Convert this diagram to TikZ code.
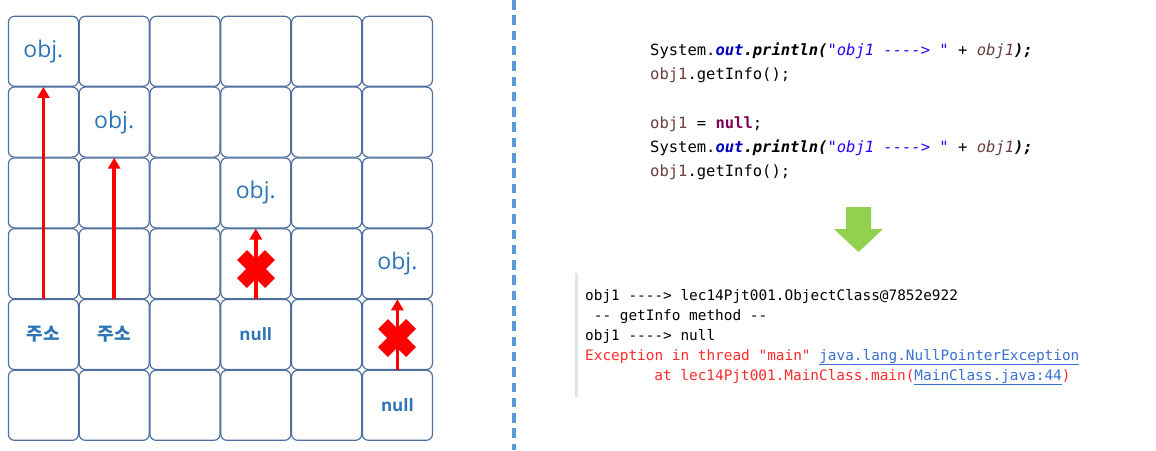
\documentclass[tikz,border=0pt]{standalone}
\usepackage{fontspec}
\usepackage{xcolor}
\usetikzlibrary{arrows.meta}
\setmainfont{Open Sans}
\setmonofont{DejaVu Sans Mono}
\newfontfamily\krfont{Noto Sans CJK KR}
\definecolor{cellline}{HTML}{4F6F9E}
\definecolor{labelblue}{HTML}{2E75B6}
\definecolor{divblue}{HTML}{5B9BD5}
\definecolor{arrowgreen}{HTML}{92D050}
\definecolor{codefield}{HTML}{0000C0}
\definecolor{codestr}{HTML}{2A00FF}
\definecolor{codevar}{HTML}{6A3E3E}
\definecolor{codekey}{HTML}{7F0055}
\definecolor{errred}{HTML}{FF2A2A}
\definecolor{linkblue}{HTML}{3A6FD0}
\definecolor{barcol}{HTML}{DCE2EE}

\begin{document}
\begin{tikzpicture}[x=1pt, y=-1pt, >={Triangle[width=12pt,length=11pt]},
    cell/.style={draw=cellline, line width=1.2pt, rounded corners=6pt, minimum size=70pt, inner sep=0pt},
    objlabel/.style={text=labelblue, font=\fontsize{23}{26}\selectfont},
    addrlabel/.style={text=labelblue, font=\krfont\bfseries\fontsize{18}{22}\selectfont},
    nulllabel/.style={text=labelblue, font=\bfseries\fontsize{17}{20}\selectfont},
    ref/.style={->, red, line width=3.5pt},
    crossline/.style={red, line width=14pt},
    code/.style={anchor=base west, inner sep=0pt, font=\ttfamily\fontsize{15.5}{18}\selectfont},
    console/.style={anchor=base west, inner sep=0pt, font=\ttfamily\fontsize{14.4}{17}\selectfont}]
    \useasboundingbox (0,0) rectangle (1156,450);
        % memory cells
        \foreach \i in {0,...,5}
            \foreach \j in {0,...,5}
                \node[cell] (\i\j) at (43.4+70.8*\j, 51.3+70.8*\i) {};
        \node[objlabel] (o1) at (00) {obj.};
        \node[objlabel] (o2) at (11) {obj.};
        \node[objlabel] (o3) at (23) {obj.};
        \node[objlabel] (o4) at (35) {obj.};
        \node[addrlabel] (a1) at (40) {주소};
        \node[addrlabel] (a2) at (41) {주소};
        \node[nulllabel] (n1) at (43) {null};
        \node[nulllabel] (n2) at (55) {null};
        \draw[ref] (40.north) to (00.south);
        \draw[ref] (41.north) to (11.south);
        \draw[ref] (43.north) to (23.south);
        \draw[ref] (55.north) to (35.south);
        \coordinate (x1) at (256,269);
        \coordinate (x2) at (397,338);
        \draw[crossline] ([shift={(-14,-14)}]x1) to ([shift={(14,14)}]x1);
        \draw[crossline] ([shift={(-14,14)}]x1) to ([shift={(14,-14)}]x1);
        \draw[crossline] ([shift={(-14,-14)}]x2) to ([shift={(14,14)}]x2);
        \draw[crossline] ([shift={(-14,14)}]x2) to ([shift={(14,-14)}]x2);
        % divider
        \draw[divblue, line width=4pt, dash pattern=on 9.5pt off 5.8pt] (514,0) to (514,450);
        % source
        \node[code] (c1) at (650,55) {System.{\bfseries\itshape\color{codefield}out}{\bfseries\itshape .println(}{\itshape\color{codestr}"obj1 ----> "} {\itshape +} {\itshape\color{codevar}obj1}{\bfseries\itshape );}};
        \node[code] (c2) at (650,79) {{\color{codevar}obj1}.getInfo();};
        \node[code] (c3) at (650,128) {{\color{codevar}obj1} = {\bfseries\color{codekey}null};};
        \node[code] (c4) at (650,152) {System.{\bfseries\itshape\color{codefield}out}{\bfseries\itshape .println(}{\itshape\color{codestr}"obj1 ----> "} {\itshape +} {\itshape\color{codevar}obj1}{\bfseries\itshape );}};
        \node[code] (c5) at (650,176) {{\color{codevar}obj1}.getInfo();};
        \fill[arrowgreen] (846,207) -- (871,207) -- (871,229) -- (883,229) -- (858.5,252) -- (834,229) -- (846,229) -- cycle;
        % console
        \fill[barcol] (575,273) rectangle (578,397);
        \node[console] (r1) at (585,300) {obj1 ----> lec14Pjt001.ObjectClass@7852e922};
        \node[console] (r2) at (593.65,320) {-- getInfo method --};
        \node[console] (r3) at (585,340) {obj1 ----> null};
        \node[console] (r4) at (585,360) {{\color{errred}Exception in thread "main"} {\color{linkblue}\underline{java.lang.NullPointerException}}};
        \node[console] (r5) at (654.2,380) {{\color{errred}at lec14Pjt001.MainClass.main(}{\color{linkblue}\underline{MainClass.java:44}}{\color{errred})}};
    \end{tikzpicture}
\end{document}
